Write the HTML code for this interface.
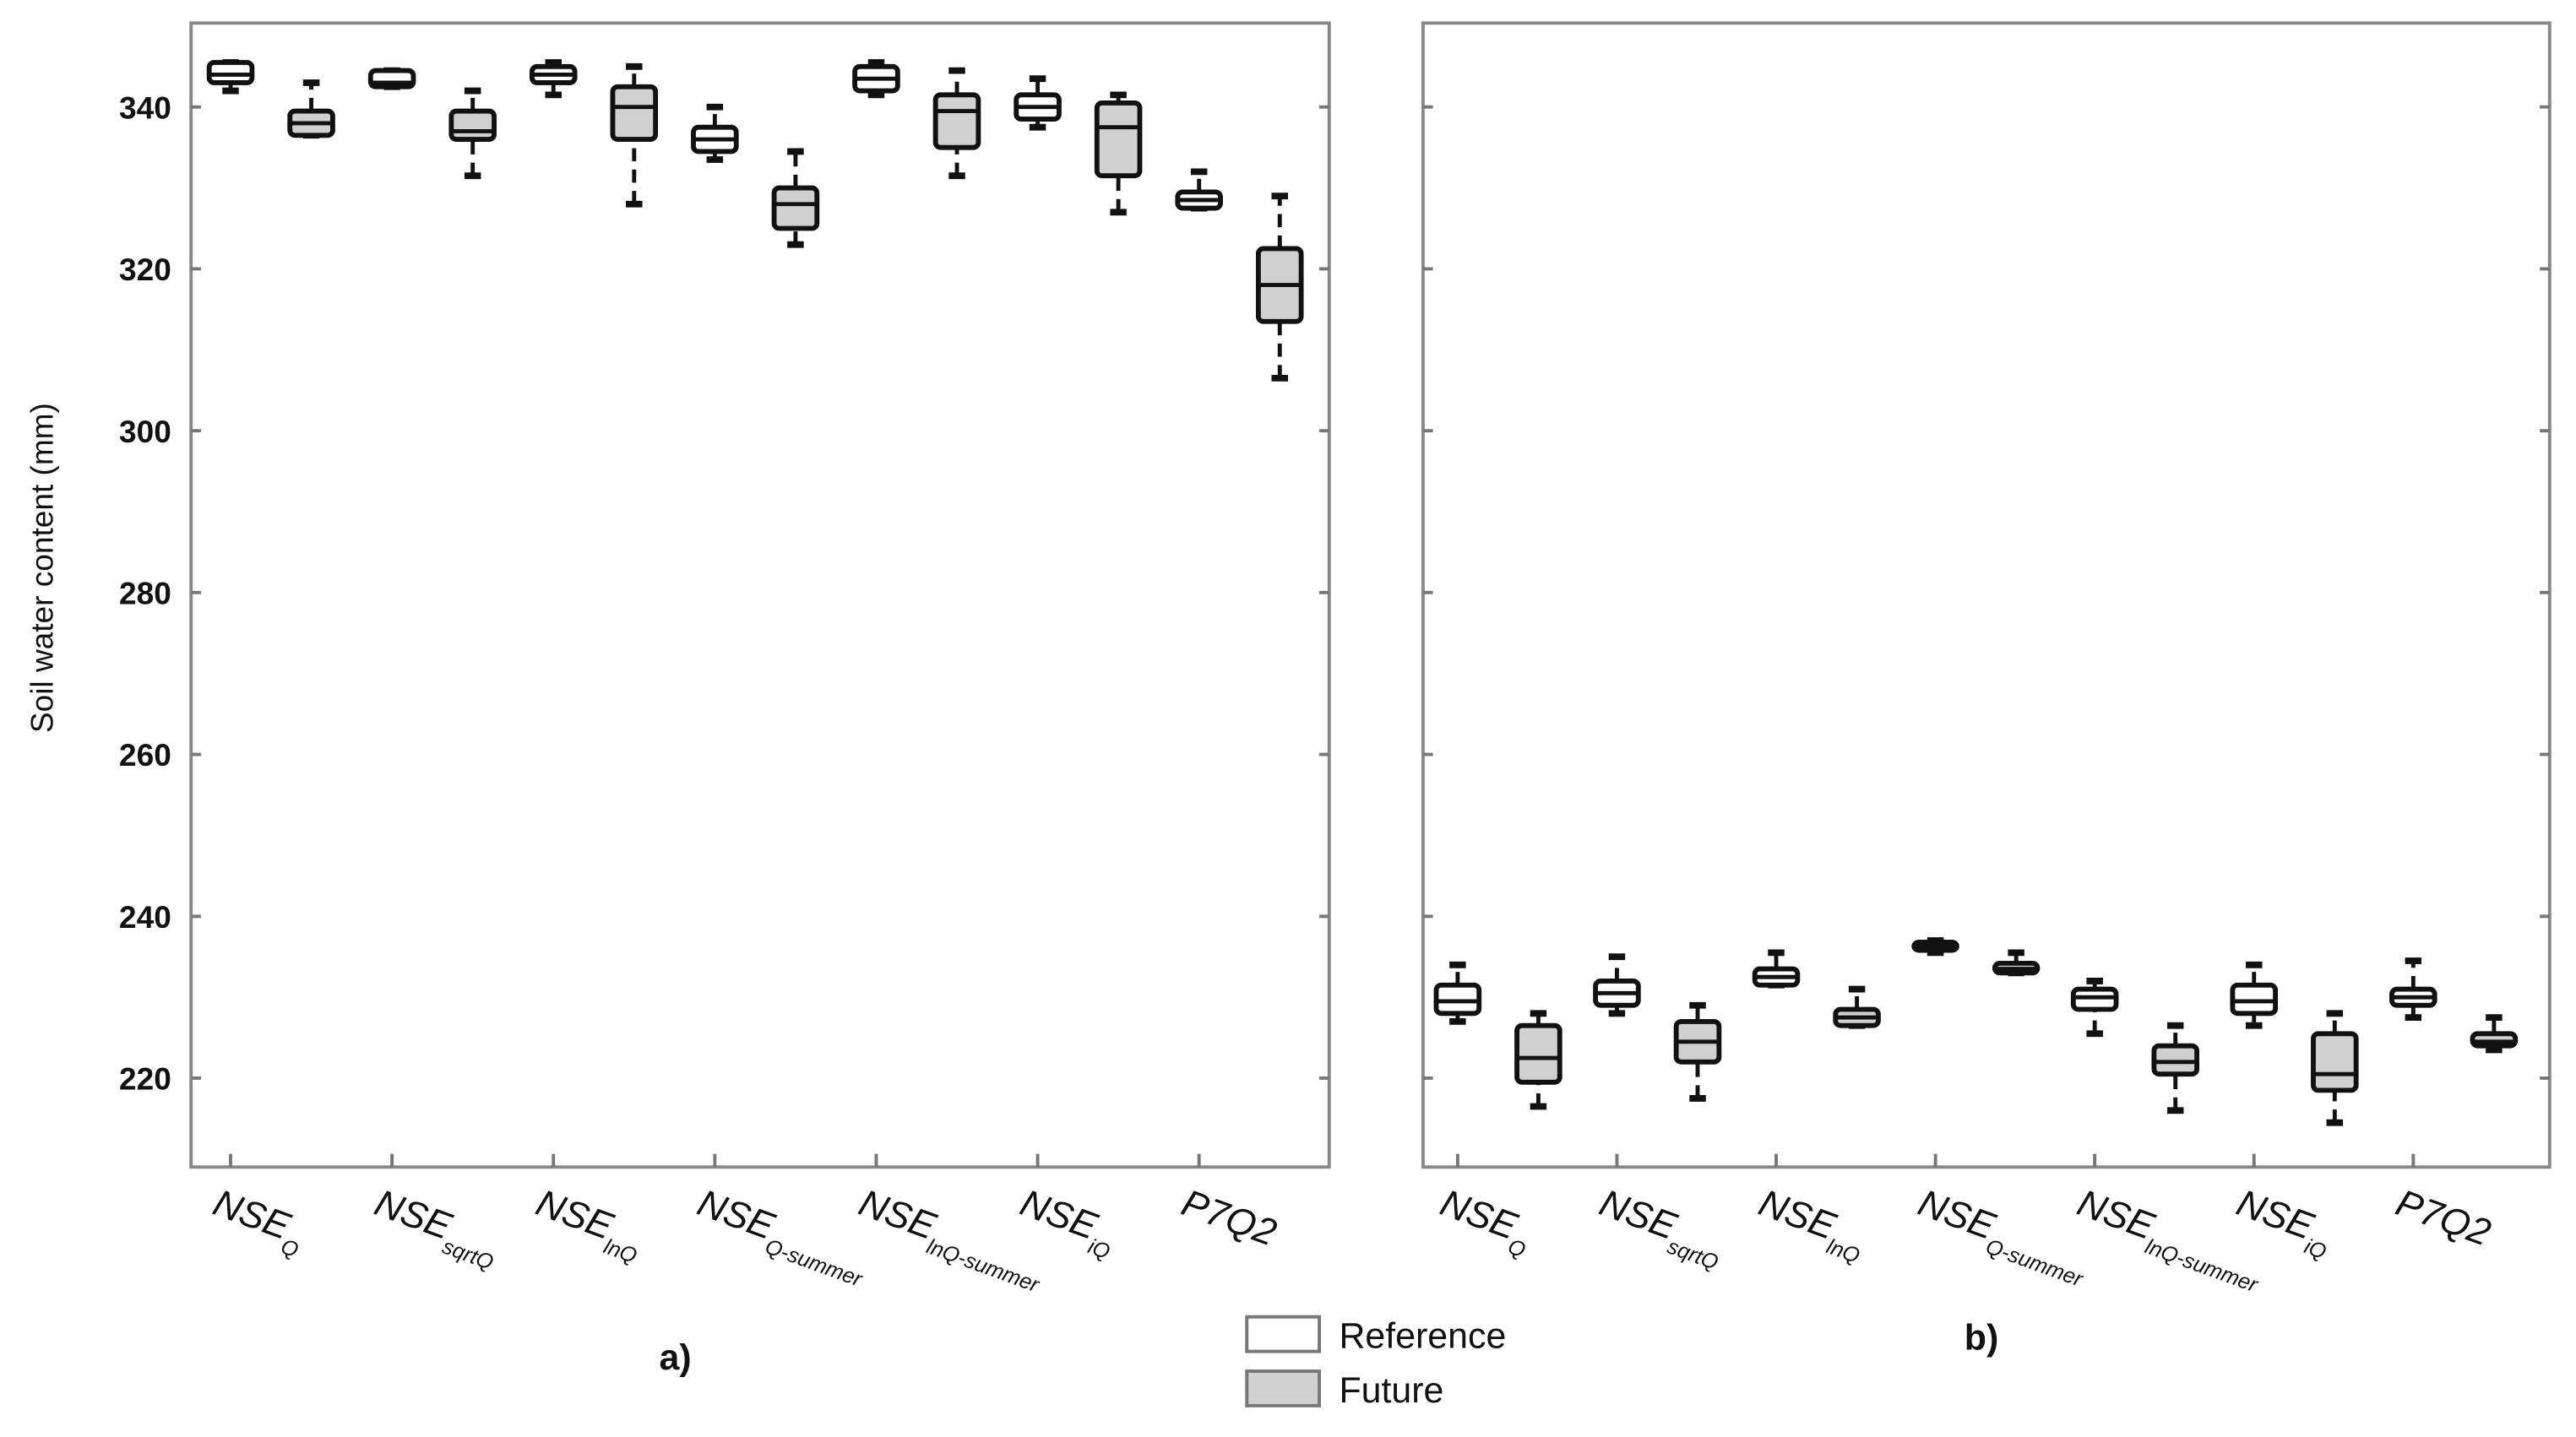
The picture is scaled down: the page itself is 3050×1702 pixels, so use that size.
<!DOCTYPE html>
<html><head><meta charset="utf-8"><style>
html,body{margin:0;padding:0;background:#fff;}
svg{display:block;font-family:"Liberation Sans",Arial,sans-serif;}
</style></head><body>
<svg id="chart" xmlns="http://www.w3.org/2000/svg" width="3050" height="1702" viewBox="0 0 1564 873" preserveAspectRatio="none">
<g id="root"></g>
</svg>
<script>
const categories = ["Q","sqrtQ","lnQ","Q-summer","lnQ-summer","iQ","P7Q2"];
const yTicks = [220,240,260,280,300,320,340];
// [whiskerLow, q1, median, q3, whiskerHigh]
const refA = [[342,343,344,345.5,345.5],[342.5,342.5,343,344.5,344.5],[341.5,343,344,345,345.5],[333.5,334.5,336,337.5,340],[341.5,342,343.5,345,345.5],[337.5,338.5,340,341.5,343.5],[327.5,327.5,328.5,329.5,332]];
const futA = [[336.5,336.5,338,339.5,343],[331.5,336,337,339.5,342],[328,336,340,342.5,345],[323,325,328,330,334.5],[331.5,335,339.5,341.5,344.5],[327,331.5,337.5,340.5,341.5],[306.5,313.5,318,322.5,329]];
const refB = [[227,228,229.5,231.5,234],[228,229,230.5,232,235],[231.5,231.5,232.5,233.5,235.5],[235.5,235.8,236.3,236.8,237],[225.5,228.5,230,231,232],[226.5,228,229.5,231.5,234],[227.5,229,230,231,234.5]];
const futB = [[216.5,219.5,222.5,226.5,228],[217.5,222,224.5,227,229],[226.5,226.5,227.5,228.5,231],[233,233,233.5,234.2,235.5],[216,220.5,222,224,226.5],[214.5,218.5,220.5,225.5,228],[223.5,224,224.5,225.5,227.5]];

const NS="http://www.w3.org/2000/svg";
const root=document.getElementById('root');
function mk(tag,attrs,parent){const e=document.createElementNS(NS,tag);for(const k in attrs)e.setAttribute(k,attrs[k]);(parent||root).appendChild(e);return e;}
const yTop=14,yBot=709;
function y(v){return 655-(v-220)*(590/120);}

function panel(name,x0,x1,firstTick,step,ref,fut,showLabels){
  const g=mk('g',{});
  
  
  const fr=mk('rect',{x:x0,y:yTop,width:x1-x0,height:yBot-yTop,fill:'none',stroke:'#888',"stroke-width":2},g);
  
  
  yTicks.forEach(t=>{
    const yy=y(t);
    const tk=mk('path',{d:`M${x0} ${yy}h6M${x1} ${yy}h-6`,stroke:'#777',"stroke-width":2},g);
    
    
    if(showLabels){
      const tl=mk('text',{x:x0-12,y:yy+7,"text-anchor":"end","font-size":19,"font-weight":"bold",fill:'#111'},g);
      tl.textContent=t;
      
      
    }
  });
  categories.forEach((c,i)=>{
    const cx=firstTick+i*step;
    const xt=mk('line',{x1:cx,x2:cx,y1:yBot,y2:yBot-8,stroke:'#777',"stroke-width":2},g);
    
    
    const lab=mk('text',{transform:`translate(${cx-12},${yBot+28}) rotate(20)`,"font-size":23,"font-style":"italic",fill:'#111'},g);
    
    
    if(c==="P7Q2"){lab.textContent="P7Q2";}
    else{
      const a=mk('tspan',{},lab);a.textContent="NSE";
      const b=mk('tspan',{"font-size":13,dy:8},lab);b.textContent=c;
    }
    [[ref[i],cx,'#ffffff','reference'],[fut[i],cx+49,'#d0d0d0','future']].forEach(([d,bx,fill,kind])=>{
      const bg=mk('g',{},g);
      
      
      const w=26;
      mk('line',{x1:bx,x2:bx,y1:y(d[0]),y2:y(d[1]),stroke:'#111',"stroke-width":2.5,"stroke-dasharray":"8 5"},bg);
      mk('line',{x1:bx,x2:bx,y1:y(d[3]),y2:y(d[4]),stroke:'#111',"stroke-width":2.5,"stroke-dasharray":"8 5"},bg);
      mk('line',{x1:bx-5,x2:bx+5,y1:y(d[0]),y2:y(d[0]),stroke:'#111',"stroke-width":4},bg);
      mk('line',{x1:bx-5,x2:bx+5,y1:y(d[4]),y2:y(d[4]),stroke:'#111',"stroke-width":4},bg);
      const h=Math.max(y(d[1])-y(d[3]),3);
      mk('rect',{x:bx-w/2,y:y(d[3]),width:w,height:h,rx:3,fill:fill,stroke:'#111',"stroke-width":3},bg);
      mk('line',{x1:bx-w/2,x2:bx+w/2,y1:y(d[2]),y2:y(d[2]),stroke:'#111',"stroke-width":2.5},bg);
    });
  });
}
panel('panel-a',116,807,140,98,refA,futA,true);
panel('panel-b',864,1548,885,96.7,refB,futB,false);

const yt=mk('text',{transform:'translate(32,345) rotate(-90)',"text-anchor":"middle","font-size":19,fill:'#111'});
yt.textContent="Soil water content (mm)";


const pa=mk('text',{x:410,y:832,"text-anchor":"middle","font-size":22,"font-weight":"bold",fill:'#111'});
pa.textContent="a)";


const pb=mk('text',{x:1203,y:820,"text-anchor":"middle","font-size":22,"font-weight":"bold",fill:'#111'});
pb.textContent="b)";


[["Reference","#ffffff",800],["Future","#d0d0d0",833]].forEach(([t,f,yy])=>{
  const lg=mk('g',{});
  
  
  mk('rect',{x:757,y:yy,width:44,height:21,fill:f,stroke:'#777',"stroke-width":2},lg);
  const tx=mk('text',{x:813,y:yy+19,"font-size":22,fill:'#111'},lg);
  tx.textContent=t;
});
</script>
</body></html>
